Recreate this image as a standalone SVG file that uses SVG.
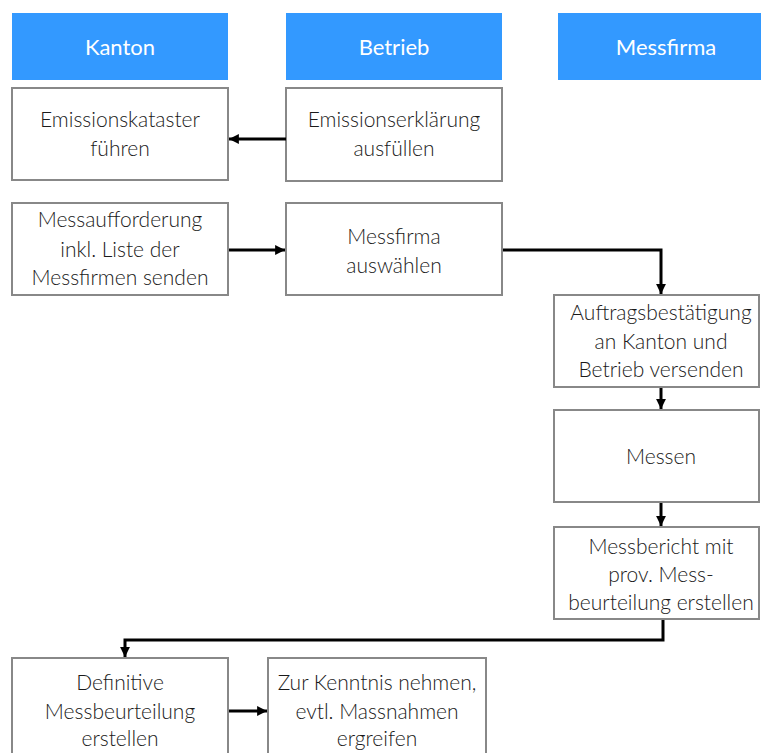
<svg xmlns="http://www.w3.org/2000/svg" width="761" height="753" viewBox="0 0 761 753">
<style>
.hdr{fill:#3399ff}
.box{fill:#fff;stroke:#888;stroke-width:2}
.ht{font-family:"Lato","Open Sans","Liberation Sans",sans-serif;font-weight:400;font-size:22px;fill:#fff;text-anchor:middle}
.t{font-family:"Lato","Open Sans","Liberation Sans",sans-serif;font-weight:300;font-size:21px;fill:#1a1a1a;text-anchor:middle}
.c{fill:none;stroke:#000;stroke-width:3;marker-end:url(#ah)}
</style>
<defs>
<marker id="ah" viewBox="0 0 10 10" refX="10" refY="5" markerWidth="3.3" markerHeight="3.3" orient="auto" markerUnits="strokeWidth">
<path d="M0,0 L10,5 L0,10 z" fill="#000"/>
</marker>
</defs>
<rect width="761" height="753" fill="#fff"/>
<g id="h-kanton"><rect class="hdr" x="12" y="13" width="216" height="67"/><text class="ht" x="120" y="55">Kanton</text></g>
<g id="h-betrieb"><rect class="hdr" x="286" y="13" width="216" height="67"/><text class="ht" x="394" y="55">Betrieb</text></g>
<g id="h-messfirma"><rect class="hdr" x="558" y="13" width="216" height="67"/><text class="ht" x="666" y="55">Messfirma</text></g>

<g id="n1"><rect class="box" x="12" y="88" width="216" height="92"/><text class="t" x="120" y="127">Emissionskataster</text><text class="t" x="120" y="156">führen</text></g>
<g id="n2"><rect class="box" x="286" y="88" width="216" height="93"/><text class="t" x="394" y="127">Emissionserklärung</text><text class="t" x="394" y="156">ausfüllen</text></g>
<g id="n3"><rect class="box" x="12" y="203" width="216" height="92"/><text class="t" x="120" y="227">Messaufforderung</text><text class="t" x="120" y="257">inkl. Liste der</text><text class="t" x="120" y="285">Messfirmen senden</text></g>
<g id="n4"><rect class="box" x="286" y="203" width="216" height="92"/><text class="t" x="394" y="244">Messfirma</text><text class="t" x="394" y="273">auswählen</text></g>
<g id="n5"><rect class="box" x="554" y="295" width="205" height="92"/><text class="t" x="661" y="320">Auftragsbestätigung</text><text class="t" x="661" y="349">an Kanton und</text><text class="t" x="661" y="377">Betrieb versenden</text></g>
<g id="n6"><rect class="box" x="554" y="410" width="205" height="92"/><text class="t" x="661" y="464">Messen</text></g>
<g id="n7"><rect class="box" x="554" y="527" width="205" height="92"/><text class="t" x="661" y="554">Messbericht mit</text><text class="t" x="661" y="582">prov. Mess-</text><text class="t" x="661" y="610">beurteilung erstellen</text></g>
<g id="n8"><rect class="box" x="12" y="658" width="216" height="100"/><text class="t" x="120" y="690">Definitive</text><text class="t" x="120" y="719">Messbeurteilung</text><text class="t" x="120" y="746">erstellen</text></g>
<g id="n9"><rect class="box" x="268" y="658" width="218" height="100"/><text class="t" x="377" y="690">Zur Kenntnis nehmen,</text><text class="t" x="377" y="719">evtl. Massnahmen</text><text class="t" x="377" y="746">ergreifen</text></g>

<g id="connectors">
<path class="c" d="M286,139 H229"/>
<path class="c" d="M229,250 H285"/>
<path class="c" d="M503,250 H661 V294"/>
<path class="c" d="M661,388 V409"/>
<path class="c" d="M661,503 V526"/>
<path class="c" d="M663,620 V640 H125 V657"/>
<path class="c" d="M229,711 H267"/>
</g>
</svg>
